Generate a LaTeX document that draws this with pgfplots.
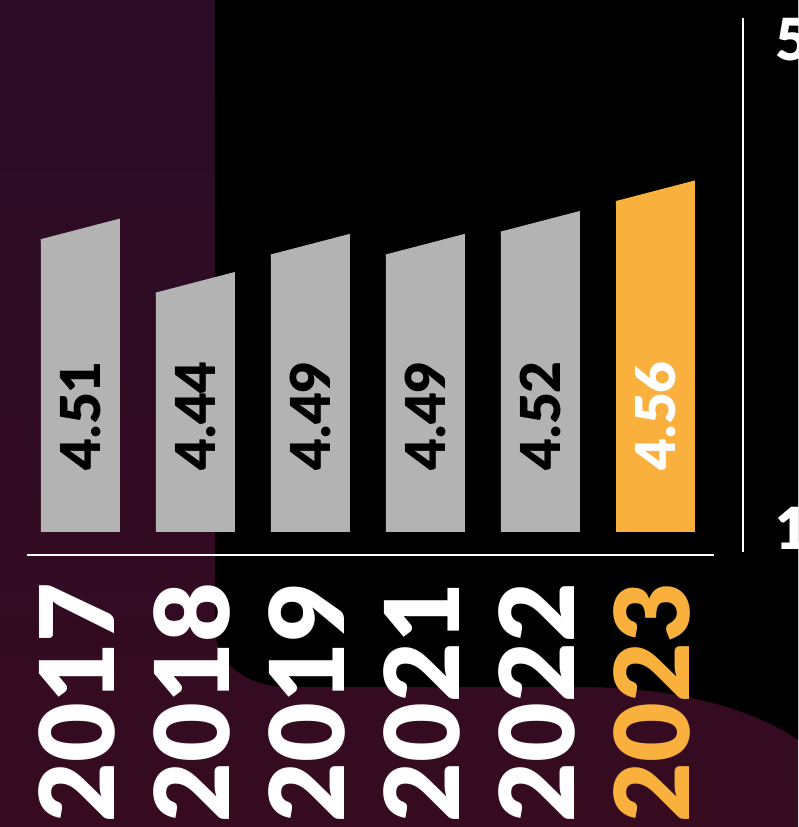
\documentclass[border=0pt]{standalone}
\usepackage{pgfplots}
\pgfplotsset{compat=1.18}
\usepackage{fontspec}
\newfontfamily\heavy{Lato Black}
\definecolor{bargray}{RGB}{179,179,179}
\definecolor{accent}{RGB}{249,176,61}
\definecolor{plumtop}{RGB}{42,12,38}
\definecolor{plumbot}{RGB}{54,11,32}
\begin{document}
\begin{tikzpicture}
\useasboundingbox (0pt,0pt) rectangle (798pt,827pt);
\clip (0pt,0pt) rectangle (798pt,827pt);
% backdrop: plum panel on the left and a wave along the bottom
\begin{scope}[x=1pt,y=1pt]
\shade[top color=plumtop, bottom color=plumbot] (0,0) rectangle (798,827);
\fill[black] (215,827) -- (798,827) -- (798,87)
  .. controls (770,107) and (700,140) .. (580,140) -- (290,140)
  .. controls (245,140) and (215,165) .. (215,200) -- cycle;
\end{scope}

\begin{axis}[at={(27pt,295pt)}, anchor=south west, scale only axis,
    width=687pt, height=514pt,
    xmin=-0.465, xmax=5.509, ymin=4.126, ymax=4.80,
    hide y axis, axis x line*=bottom,
    x axis line style={-, white, line width=2.5pt, yshift=-23pt},
    xtick={0,...,5},
    xticklabels={2017,2018,2019,2021,2022,\textcolor{accent}{2023}},
    major tick length=0pt,
    xticklabel style={yshift=-51pt, xshift=-3pt, rotate=90, anchor=east, inner sep=0pt,
      text=white, font=\heavy\fontsize{103}{103}\selectfont}]
  \addplot[ybar, bar width=79pt, fill=bargray, draw=none, mark=none]
    coordinates {(0,4.51) (1,4.44) (2,4.49) (3,4.49) (4,4.52)};
  \addplot[ybar, bar width=79pt, fill=accent, draw=none, mark=none]
    coordinates {(5,4.56)};
  % slanted caps
  \addplot[fill=bargray, draw=none, mark=none] coordinates {(-0.3435,4.505) (-0.3435,4.51) (0.3435,4.537) (0.3435,4.505)};
  \addplot[fill=bargray, draw=none, mark=none] coordinates {(0.6565,4.435) (0.6565,4.44) (1.3435,4.467) (1.3435,4.435)};
  \addplot[fill=bargray, draw=none, mark=none] coordinates {(1.6565,4.485) (1.6565,4.49) (2.3435,4.517) (2.3435,4.485)};
  \addplot[fill=bargray, draw=none, mark=none] coordinates {(2.6565,4.485) (2.6565,4.49) (3.3435,4.517) (3.3435,4.485)};
  \addplot[fill=bargray, draw=none, mark=none] coordinates {(3.6565,4.515) (3.6565,4.52) (4.3435,4.547) (4.3435,4.515)};
  \addplot[fill=accent, draw=none, mark=none] coordinates {(4.6565,4.555) (4.6565,4.56) (5.3435,4.587) (5.3435,4.555)};
  % value labels
  \addplot[only marks, mark=*, mark size=0pt, mark options={draw=none, fill=none},
    point meta=explicit symbolic, nodes near coords={\pgfplotspointmeta},
    nodes near coords style={rotate=90, anchor=west, inner sep=0pt, text=black,
      font=\heavy\fontsize{55}{55}\selectfont}]
    coordinates {(0,4.207)[4.51] (1,4.207)[4.44] (2,4.207)[4.49] (3,4.207)[4.49] (4,4.207)[4.52]};
  \addplot[only marks, mark=*, mark size=0pt, mark options={draw=none, fill=none},
    point meta=explicit symbolic, nodes near coords={\pgfplotspointmeta},
    nodes near coords style={rotate=90, anchor=west, inner sep=0pt, text=white,
      font=\heavy\fontsize{55}{55}\selectfont}]
    coordinates {(5,4.207)[4.56]};
\end{axis}

% rating scale on the right
\begin{axis}[at={(743pt,275pt)}, anchor=south east, scale only axis,
    width=10pt, height=534pt,
    xmin=0, xmax=1, ymin=0.803, ymax=5.18,
    hide x axis, axis y line*=right,
    y axis line style={-, white, line width=2pt},
    ytick={1,5}, yticklabels={1,5}, major tick length=0pt,
    yticklabel style={anchor=west, inner sep=0pt, xshift=32pt,
      text=white, font=\heavy\fontsize{58}{58}\selectfont}]
  \addplot[draw=none, mark=none] coordinates {(0,1) (1,5)};
\end{axis}
\end{tikzpicture}
\end{document}
